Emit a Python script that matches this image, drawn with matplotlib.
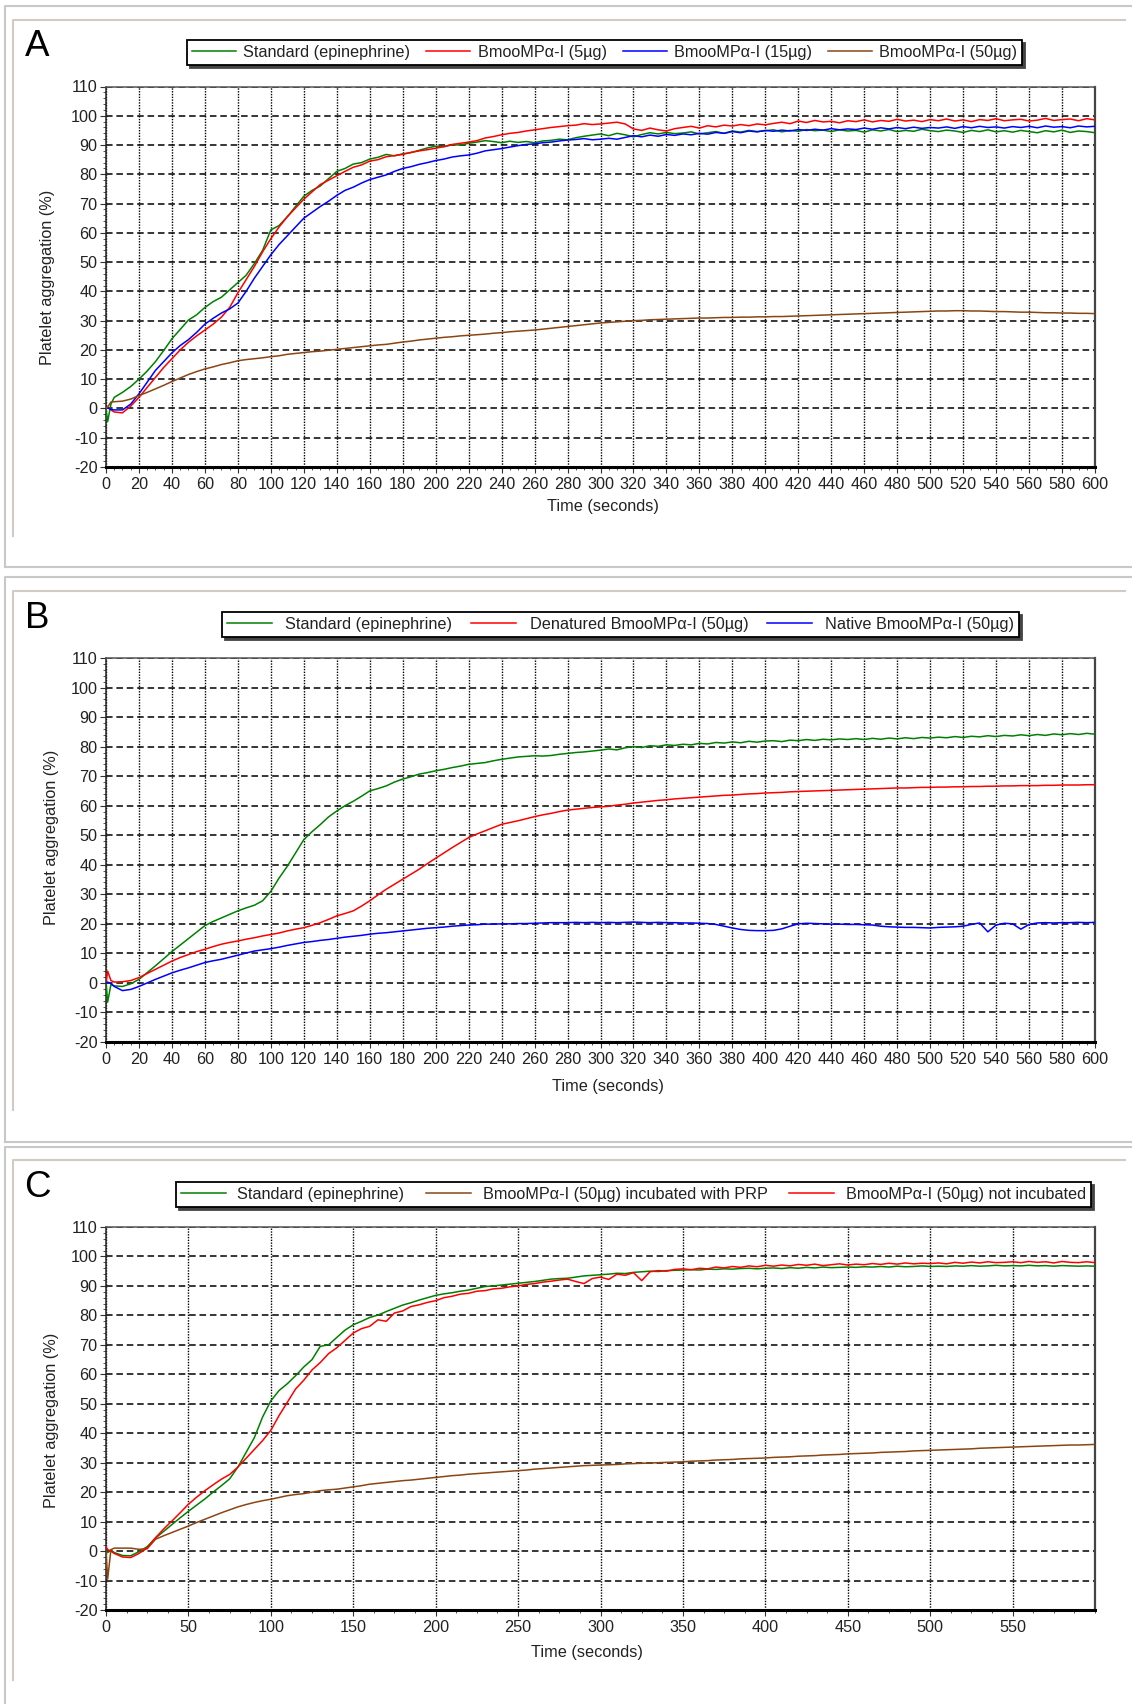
import numpy as np
import matplotlib
matplotlib.use('Agg')
import matplotlib.pyplot as plt
from matplotlib.lines import Line2D
from matplotlib.ticker import MultipleLocator

plt.rcParams['font.family'] = ['Liberation Sans', 'DejaVu Sans']
plt.rcParams['axes.unicode_minus'] = False

# sampling times (seconds): a few early points, then every 5 s
time_s = np.array([0, 1, 3] + list(range(5, 601, 5)))

# ---- panel A ----
a_labels = ['Standard (epinephrine)', 'BmooMPα-I (5µg)',
            'BmooMPα-I (15µg)', 'BmooMPα-I (50µg)']
a_standard = [0, -4.5, 1.5,
    3.8, 5.5, 7.5, 10.0, 12.8, 16.0, 19.8, 23.8, 27.0, 30.2,
    32.0, 34.5, 36.5, 38.0, 40.5, 43.0, 45.5, 49.5, 54.0, 61.0,
    62.5, 65.5, 69.0, 72.5, 74.5, 76.0, 78.5, 81.0, 82.0, 83.5,
    84.0, 85.2, 85.8, 86.8, 86.3, 87.0, 87.4, 88.2, 89.0, 89.6,
    89.4, 90.1, 90.0, 90.6, 91.0, 91.5, 91.2, 90.8, 91.3, 90.9,
    91.2, 90.8, 91.4, 91.6, 92.0, 91.8, 92.5, 93.0, 93.4, 93.8,
    93.2, 94.0, 93.5, 92.8, 93.6, 94.2, 93.8, 94.3, 93.9, 94.1,
    94.5, 93.8, 94.2, 94.6, 94.0, 94.8, 94.4, 95.0, 94.6, 94.9,
    95.2, 94.5, 95.0, 94.7, 95.3, 94.9, 95.1, 94.6, 95.2, 94.8,
    95.0, 94.4, 95.2, 94.8, 95.3, 94.6, 95.0, 94.7, 95.4, 94.9,
    94.6, 95.1, 94.8, 94.3, 95.0, 94.6, 95.2, 94.5, 94.9, 94.4,
    95.0, 94.6, 94.2, 94.9, 94.5, 95.1, 94.3, 94.8, 94.6, 94.2]
a_5ug = [0, 0.3, -0.5,
    -1.2, -1.5, 0.8, 3.8, 7.2, 10.6, 14.0, 17.0, 20.0, 22.6,
    24.8, 26.8, 28.8, 31.2, 34.5, 39.5, 44.0, 48.5, 53.5, 58.0,
    62.0, 65.5, 68.5, 71.5, 74.0, 76.5, 78.0, 79.5, 81.0, 82.4,
    83.2, 84.5, 85.0, 86.0, 86.4, 86.8, 87.5, 88.0, 88.4, 88.9,
    89.5, 90.2, 90.6, 91.0, 91.5, 92.4, 92.9, 93.5, 94.0, 94.3,
    94.8, 95.2, 95.6, 96.0, 96.3, 96.6, 96.8, 97.3, 97.0, 97.2,
    97.5, 97.8, 97.2, 95.5, 95.0, 95.8, 95.2, 94.8, 95.6, 96.0,
    96.4, 95.8, 96.6, 96.2, 96.8, 96.5, 97.0, 96.6, 97.2, 96.9,
    97.4, 97.8, 97.3, 98.2, 97.7, 98.4, 97.9, 98.1, 97.6, 98.3,
    98.0, 98.6, 97.9, 98.4, 98.1, 98.8, 98.2, 98.5, 98.0, 98.7,
    98.3, 98.9, 98.2, 98.6, 98.0, 98.7, 98.4, 99.0, 98.3, 98.6,
    98.8, 98.2, 98.5, 99.1, 98.4, 98.7, 98.9, 98.3, 99.0, 98.6]
a_15ug = [0, 0.2, -0.3,
    -0.5, -0.5, 1.5, 5.0, 9.0, 13.0, 16.0, 19.0, 21.5, 23.5,
    26.0, 28.8, 30.8, 32.6, 34.0, 36.0, 40.0, 44.5, 48.5, 52.5,
    56.0, 59.0, 62.0, 65.0, 67.0, 69.0, 70.8, 72.8, 74.5, 75.6,
    77.0, 78.2, 79.0, 79.8, 81.0, 82.0, 82.6, 83.4, 84.0, 84.7,
    85.2, 85.9, 86.3, 86.6, 87.2, 88.0, 88.4, 88.8, 89.3, 89.8,
    90.2, 90.4, 90.8, 91.0, 91.4, 91.7, 91.9, 92.2, 91.8, 92.0,
    92.3, 92.0, 92.6, 93.2, 92.8, 93.4, 93.0, 93.6, 93.3, 93.8,
    93.5, 94.0, 93.7, 94.3, 94.0, 94.6, 94.2, 94.8, 94.5, 95.0,
    94.7, 95.1, 94.8, 95.3, 95.0, 95.4, 95.1, 95.6, 95.2, 95.5,
    95.3, 95.8, 95.4, 95.9, 95.5, 96.0, 95.6, 96.1, 95.7, 96.0,
    95.8, 96.2, 95.7, 96.3, 95.9, 96.4, 96.0, 96.2, 95.8, 96.3,
    96.0, 96.4, 95.9, 96.5, 96.1, 96.3, 95.9, 96.5, 96.2, 96.4]
a_50ug = [0, 0.5, 2.2,
    2.3, 2.5, 3.2, 4.4, 5.5, 6.7, 7.9, 9.2, 10.4, 11.6,
    12.6, 13.5, 14.2, 15.0, 15.6, 16.3, 16.7, 17.0, 17.3, 17.7,
    18.0, 18.5, 18.8, 19.1, 19.4, 19.6, 19.9, 20.2, 20.5, 20.8,
    21.1, 21.4, 21.7, 21.9, 22.3, 22.7, 23.0, 23.4, 23.7, 24.0,
    24.3, 24.5, 24.8, 25.0, 25.2, 25.4, 25.7, 25.9, 26.2, 26.4,
    26.6, 26.8, 27.1, 27.4, 27.7, 28.0, 28.3, 28.6, 28.9, 29.2,
    29.4, 29.6, 29.8, 30.0, 30.1, 30.3, 30.4, 30.5, 30.6, 30.7,
    30.8, 30.9, 30.9, 31.0, 31.1, 31.1, 31.2, 31.2, 31.3, 31.3,
    31.4, 31.4, 31.5, 31.6, 31.7, 31.8, 31.9, 32.0, 32.1, 32.2,
    32.3, 32.4, 32.5, 32.6, 32.7, 32.8, 32.9, 33.0, 33.1, 33.2,
    33.3, 33.3, 33.4, 33.4, 33.3, 33.3, 33.2, 33.1, 33.1, 33.0,
    32.9, 32.9, 32.8, 32.7, 32.7, 32.6, 32.6, 32.5, 32.5, 32.4]

# ---- panel B ----
b_labels = ['Standard (epinephrine)', 'Denatured BmooMPα-I (50µg)',
            'Native BmooMPα-I (50µg)']
b_standard = [0, -6.5, -0.5,
    -1.0, -1.2, -0.3, 1.2, 3.5, 5.8, 8.2, 10.6, 12.8, 15.0,
    17.2, 19.4, 20.8, 22.0, 23.2, 24.4, 25.4, 26.3, 27.8, 31.0,
    35.5, 39.5, 44.0, 48.5, 51.2, 53.6, 56.2, 58.2, 60.0, 61.5,
    63.2, 65.0, 65.8, 66.7, 68.0, 69.0, 69.8, 70.7, 71.2, 71.8,
    72.3, 72.9, 73.4, 74.0, 74.3, 74.6, 75.2, 75.7, 76.1, 76.5,
    76.7, 76.9, 76.8, 77.0, 77.4, 77.7, 78.0, 78.2, 78.5, 78.8,
    79.2, 78.9, 79.6, 80.0, 79.7, 80.3, 80.1, 80.6, 80.4, 80.8,
    80.6, 81.1, 80.9, 81.4, 81.2, 81.6, 81.3, 81.8, 81.5, 81.9,
    82.0, 81.7, 82.2, 82.0, 82.4, 82.1, 82.5, 82.3, 82.6, 82.4,
    82.7, 82.4, 82.8, 82.5, 82.9, 82.6, 83.0, 82.7, 83.1, 82.9,
    83.2, 83.0, 83.4, 83.1, 83.5, 83.3, 83.7, 83.4, 83.8, 83.6,
    84.0, 83.7, 84.1, 83.8, 84.3, 84.0, 84.4, 84.1, 84.5, 84.2]
b_denatured = [0, 4.0, 0.8,
    0.3, 0.4, 0.8, 1.8, 3.2, 4.6, 6.0, 7.4, 8.6, 9.6,
    10.6, 11.4, 12.3, 13.1, 13.7, 14.2, 14.8, 15.3, 15.9, 16.4,
    16.9, 17.6, 18.2, 18.7, 19.5, 20.4, 21.5, 22.7, 23.5, 24.4,
    26.0, 27.8, 29.8, 31.7, 33.4, 35.1, 36.8, 38.5, 40.4, 42.2,
    44.0, 45.8, 47.5, 49.2, 50.4, 51.5, 52.6, 53.7, 54.3, 54.9,
    55.6, 56.3, 56.9, 57.4, 58.0, 58.5, 58.8, 59.1, 59.4, 59.6,
    59.8, 60.2, 60.5, 60.9, 61.2, 61.5, 61.8, 62.0, 62.3, 62.5,
    62.7, 62.9, 63.1, 63.3, 63.5, 63.6, 63.8, 64.0, 64.1, 64.3,
    64.4, 64.5, 64.7, 64.8, 64.9, 65.0, 65.1, 65.2, 65.3, 65.4,
    65.5, 65.6, 65.7, 65.8, 65.9, 66.0, 66.0, 66.1, 66.2, 66.2,
    66.3, 66.3, 66.4, 66.4, 66.5, 66.5, 66.6, 66.6, 66.7, 66.7,
    66.8, 66.8, 66.8, 66.9, 66.9, 67.0, 67.0, 67.0, 67.1, 67.1]
b_native = [0, 0.3, -0.2,
    -1.2, -2.6, -2.2, -1.2, 0.0, 1.2, 2.3, 3.4, 4.3, 5.1,
    6.0, 6.9, 7.5, 8.0, 8.7, 9.4, 10.1, 10.8, 11.2, 11.6,
    12.1, 12.7, 13.2, 13.7, 14.0, 14.4, 14.7, 15.1, 15.5, 15.8,
    16.1, 16.5, 16.8, 17.0, 17.3, 17.6, 17.9, 18.2, 18.5, 18.7,
    18.9, 19.2, 19.4, 19.6, 19.7, 19.9, 19.9, 20.0, 20.0, 20.1,
    20.1, 20.2, 20.3, 20.4, 20.4, 20.4, 20.5, 20.4, 20.5, 20.4,
    20.5, 20.4, 20.5, 20.6, 20.5, 20.4, 20.5, 20.4, 20.4, 20.3,
    20.3, 20.2, 20.1, 19.8, 19.2, 18.6, 18.1, 17.8, 17.7, 17.7,
    17.8, 18.3, 19.2, 20.0, 20.2, 20.1, 20.0, 19.9, 19.9, 19.8,
    19.8, 19.7, 19.6, 19.2, 19.0, 18.9, 18.8, 18.8, 18.7, 18.6,
    18.8, 18.9, 19.0, 19.2, 19.8, 20.3, 17.3, 19.6, 20.2, 20.0,
    18.2, 19.8, 20.3, 20.4, 20.3, 20.4, 20.4, 20.5, 20.4, 20.5]

# ---- panel C ----
c_labels = ['Standard (epinephrine)', 'BmooMPα-I (50µg) incubated with PRP',
            'BmooMPα-I (50µg) not incubated']
c_standard = [0, -0.5, 0.3,
    -0.5, -1.5, -1.6, -0.2, 1.5, 4.4, 6.7, 9.0, 11.3, 13.5,
    15.6, 17.7, 20.0, 22.2, 24.5, 28.5, 33.5, 38.5, 45.5, 51.0,
    54.5, 56.8, 59.5, 62.5, 65.0, 69.5, 70.0, 72.5, 75.0, 76.8,
    78.0, 79.3, 80.1, 81.3, 82.4, 83.5, 84.3, 85.2, 86.0, 86.8,
    87.3, 87.7, 88.2, 88.6, 89.2, 89.8, 90.0, 90.3, 90.6, 90.9,
    91.2, 91.5, 91.9, 92.3, 92.5, 92.6, 93.0, 93.4, 93.6, 93.8,
    94.0, 94.3, 94.2, 94.6, 94.8, 95.0, 94.9, 95.2, 95.3, 95.4,
    95.5, 95.4, 95.7, 95.6, 95.8, 95.7, 95.9, 96.0, 95.8, 96.0,
    96.1, 95.9, 96.2, 96.0, 96.3, 96.1, 96.4, 96.2, 96.3, 96.4,
    96.3, 96.5, 96.4, 96.6, 96.4, 96.7, 96.5, 96.6, 96.8, 96.6,
    96.7, 96.6, 96.8, 96.7, 96.9, 96.7, 96.8, 97.0, 96.8, 96.9,
    96.8, 97.0, 96.8, 96.9, 96.7, 96.9, 96.8, 96.7, 96.8, 96.7]
c_incubated = [0, -9.5, 0.5,
    1.0, 1.0, 1.0, 0.6, 0.8, 4.0, 5.2, 6.3, 7.4, 8.5,
    9.7, 10.8, 11.9, 13.0, 14.0, 15.0, 15.8, 16.5, 17.1, 17.6,
    18.2, 18.8, 19.2, 19.5, 20.0, 20.5, 20.8, 21.0, 21.4, 21.8,
    22.2, 22.7, 23.0, 23.3, 23.6, 23.9, 24.1, 24.4, 24.7, 25.0,
    25.3, 25.6, 25.8, 26.1, 26.3, 26.5, 26.7, 26.9, 27.1, 27.3,
    27.5, 27.8, 28.0, 28.2, 28.4, 28.6, 28.8, 29.0, 29.1, 29.2,
    29.3, 29.4, 29.6, 29.7, 29.8, 29.9, 30.0, 30.1, 30.2, 30.3,
    30.5, 30.6, 30.7, 30.9, 31.0, 31.1, 31.3, 31.4, 31.5, 31.6,
    31.8, 31.9, 32.0, 32.2, 32.3, 32.4, 32.6, 32.7, 32.8, 33.0,
    33.1, 33.2, 33.3, 33.5, 33.6, 33.7, 33.8, 34.0, 34.1, 34.2,
    34.3, 34.4, 34.5, 34.6, 34.7, 34.9, 35.0, 35.1, 35.2, 35.3,
    35.4, 35.5, 35.6, 35.7, 35.8, 35.9, 36.0, 36.0, 36.1, 36.2]
c_not_incubated = [1.5, 0.5, 0.0,
    -0.8, -2.0, -2.2, -0.8, 1.0, 4.5, 7.5, 10.2, 13.0, 15.9,
    18.3, 20.5, 22.5, 24.4, 26.0, 28.5, 31.5, 34.5, 37.5, 41.0,
    46.0, 50.5, 55.0, 58.0, 61.5, 64.0, 67.0, 69.0, 71.5, 74.0,
    75.5, 76.3, 78.5, 78.0, 80.8, 81.5, 83.0, 83.6, 84.4, 85.0,
    86.0, 86.5, 87.2, 87.5, 88.2, 88.4, 89.0, 89.2, 89.7, 90.0,
    90.5, 90.8, 91.3, 91.6, 92.0, 92.3, 91.5, 90.8, 92.5, 93.0,
    92.2, 94.0, 93.6, 94.5, 91.8, 94.8, 95.2, 95.0, 95.6, 95.8,
    95.5, 96.0, 95.8, 96.4, 96.1, 96.6, 96.3, 96.8, 96.5, 97.0,
    96.7, 97.1, 96.8, 97.3, 97.0, 97.4, 96.9, 97.2, 97.5, 97.1,
    97.4, 97.2, 97.6, 97.3, 97.7, 97.4, 97.8, 97.5, 97.7, 97.6,
    97.8, 97.5, 98.0, 97.7, 98.1, 97.8, 98.2, 97.9, 98.0, 98.2,
    97.9, 98.3, 98.0, 98.2, 97.8, 98.3, 98.0, 97.9, 98.2, 97.9]

GREEN, RED, BLUE, BROWN = '#008000', '#ff0000', '#0000ff', '#8b4513'

W, H = 1132, 1704
fig = plt.figure(figsize=(W / 100, H / 100), dpi=100)
fig.patch.set_facecolor('white')


def fx(px):
    return px / W


def fy(py):
    return 1 - py / H


def fig_line(xs, ys, color, lw):
    fig.add_artist(Line2D([fx(x) for x in xs], [fy(y) for y in ys],
                          transform=fig.transFigure, color=color, lw=lw))


# panel frames (outer light box + inner groove line)
for top, bottom, in_top, in_bottom in [(5.5, 566.5, 19.5, 536),
                                       (576.5, 1141.5, 590.5, 1110),
                                       (1147, None, 1160, 1680)]:
    fig_line([1132, 5, 5], [top, top, bottom or H], '#c8c8c8', 1.5)
    if bottom:
        fig_line([5, 1132], [bottom, bottom], '#c8c8c8', 1.5)
    fig_line([1125, 12.5, 12.5], [in_top, in_top, in_bottom], '#d0ccc4', 1.5)

FS = 11.7


def draw_panel(letter, top, bottom, series, colors, labels, xstep, xminor,
               xlabel_at, ylabel_x, leg_at, leg_opts, last_xtick):
    ax = fig.add_axes([fx(106), fy(bottom), fx(1095) - fx(106),
                       fy(top) - fy(bottom)])
    for ys, c, lab in zip(series, colors, labels):
        ax.plot(time_s, ys, color=c, lw=1.1, label=lab, zorder=3)

    ax.set_xlim(0, 600)
    ax.set_ylim(-20, 110)
    yt = list(range(-20, 111, 10))
    ax.set_yticks(yt)
    ax.set_yticklabels([str(v) for v in yt])
    xt = list(range(0, last_xtick + 1, xstep))
    ax.set_xticks(xt)
    ax.set_xticklabels([str(v) for v in xt])
    ax.yaxis.set_minor_locator(MultipleLocator(2))
    ax.xaxis.set_minor_locator(MultipleLocator(xminor))
    ax.tick_params(which='major', direction='out', length=4, width=0.8,
                   color='#333333', labelsize=FS, labelcolor='#222222')
    ax.tick_params(axis='y', which='major', pad=2)
    ax.tick_params(axis='x', which='major', pad=3)
    ax.tick_params(which='minor', direction='out', length=2.4, width=0.7,
                   color='#555555')

    ax.set_axisbelow(True)
    ax.yaxis.grid(True, color='black', lw=1.1, ls=(0, (4.3, 2.5)))
    ax.xaxis.grid(True, color='black', lw=1.0, ls=(0, (1, 1)))

    ax.spines['bottom'].set_linewidth(2.2)
    ax.spines['bottom'].set_color('black')
    ax.spines['left'].set_linewidth(1.1)
    ax.spines['left'].set_color('#222222')
    ax.spines['top'].set_linewidth(1.1)
    ax.spines['top'].set_color('#555555')
    ax.spines['right'].set_linewidth(1.6)
    ax.spines['right'].set_color('#444444')

    fig.text(fx(24.5), fy(top - 30), letter, fontsize=26.5, va='baseline',
             ha='left', color='black')
    fig.text(fx(xlabel_at[0]), fy(xlabel_at[1]), 'Time (seconds)',
             fontsize=FS, ha='center', va='center', color='#222222')
    fig.text(fx(ylabel_x[0]), fy(ylabel_x[1]), 'Platelet aggregation (%)',
             fontsize=FS, ha='center', va='center', rotation=90,
             color='#222222')

    leg = ax.legend(loc='upper left', bbox_to_anchor=(fx(leg_at[0]), fy(leg_at[1])),
                    bbox_transform=fig.transFigure, ncol=len(labels),
                    frameon=True, fancybox=False, edgecolor='black',
                    framealpha=1, borderaxespad=0, borderpad=0.3,
                    fontsize=FS,
                    shadow={'ox': 2, 'oy': -2, 'facecolor': '#444444',
                            'edgecolor': '#444444', 'alpha': 1.0},
                    **leg_opts)
    leg.get_frame().set_linewidth(1.3)
    for t in leg.get_texts():
        t.set_color('#222222')
    for h in leg.get_lines():
        h.set_linewidth(1.1)
    return ax


draw_panel('A', 86.5, 467, [a_standard, a_5ug, a_15ug, a_50ug],
           [GREEN, RED, BLUE, BROWN], a_labels, 20, 5,
           (603, 506.5), (48, 277), (187, 40),
           dict(handlelength=2.7, handletextpad=0.45, columnspacing=1.0), 600)

draw_panel('B', 658, 1042, [b_standard, b_denatured, b_native],
           [GREEN, RED, BLUE], b_labels, 20, 5,
           (608, 1087), (52, 837), (222, 612),
           dict(handlelength=2.75, handletextpad=0.85, columnspacing=1.15), 600)

draw_panel('C', 1227, 1610, [c_standard, c_incubated, c_not_incubated],
           [GREEN, BROWN, RED], c_labels, 50, 12.5,
           (587, 1653), (52, 1420), (176, 1182),
           dict(handlelength=2.75, handletextpad=0.72, columnspacing=1.35), 550)

fig.savefig('out.png', dpi=100)
